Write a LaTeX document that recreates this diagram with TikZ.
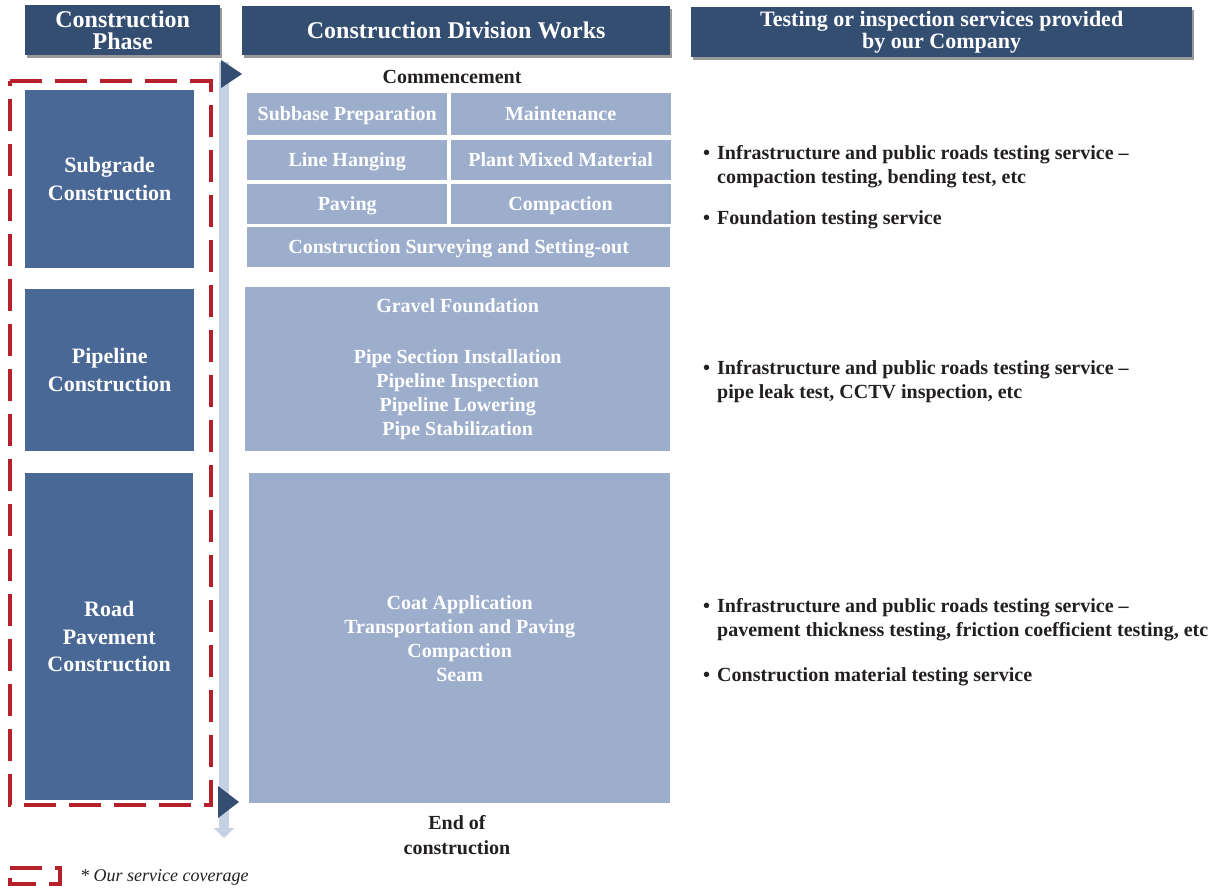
\documentclass[tikz,border=0pt]{standalone}
\usepackage{fontspec}
\setmainfont{Liberation Serif}
\usepackage{tikz}
\usetikzlibrary{positioning, arrows.meta, shadows}

\definecolor{hdrblue}{HTML}{344E71}
\definecolor{phaseblue}{HTML}{4A6895}
\definecolor{workblue}{HTML}{9DAECC}
\definecolor{barblue}{HTML}{C5D1E3}
\definecolor{coverred}{HTML}{B5202A}
\definecolor{inkblack}{HTML}{231F20}

\begin{document}
\begin{tikzpicture}[x=1pt, y=-1pt,
    headnode/.style={rectangle, fill=hdrblue, text=white, anchor=north west, inner sep=0pt, align=center, font=\bfseries\fontsize{24}{22}\selectfont, drop shadow={shadow xshift=2pt, shadow yshift=-3pt, fill=black, opacity=0.4}},
    phasenode/.style={rectangle, fill=phaseblue, text=white, anchor=north west, inner sep=0pt, align=center, font=\bfseries\fontsize{22}{27.5}\selectfont},
    worknode/.style={rectangle, fill=workblue, text=white, anchor=north west, inner sep=0pt, align=center, font=\bfseries\fontsize{20}{24}\selectfont},
    gridnode/.style={worknode, text height=14pt, text depth=1pt},
    marknode/.style={text=inkblack, align=center, inner sep=0pt, font=\bfseries\fontsize{20}{25}\selectfont},
    svcnode/.style={text=inkblack, anchor=west, inner sep=0pt, font=\bfseries\fontsize{20}{24}\selectfont},
    coverbox/.style={draw=coverred, line width=4pt, dash pattern=on 32pt off 13pt},
    timeline/.style={draw=barblue, line width=10pt, -{Triangle[width=20pt,length=10pt]}},
]
\useasboundingbox (0,0) rectangle (1215,891);

% headers
\node[headnode, minimum width=195pt, minimum height=50pt](hphase) at (25,5){Construction\\Phase};
\node[headnode, minimum width=428pt, minimum height=49pt](hworks) at (242,6){Construction Division Works};
\node[headnode, minimum width=501pt, minimum height=50pt, font=\bfseries\fontsize{22}{22}\selectfont](htest) at (691,7){Testing or inspection services provided\\by our Company};

% time line
\coordinate (t0) at (224,62);
\coordinate (t1) at (224,838);
\draw[timeline] (t0) -- (t1);
\fill[hdrblue] (221,60) -- (242,74) -- (221,88) -- cycle;
\fill[hdrblue] (218,786) -- (239,802) -- (218,818) -- cycle;

% service coverage
\draw[coverbox] (10,81) -- (211,81) -- (211,805) -- (10,805) -- cycle;

% construction phases
\node[phasenode, minimum width=169pt, minimum height=178pt](sub) at (25,90){Subgrade\\Construction};
\node[phasenode, minimum width=169pt, minimum height=162pt](pipe) at (25,289){Pipeline\\Construction};
\node[phasenode, minimum width=168pt, minimum height=327pt](road) at (25,473){Road\\Pavement\\Construction};

% division works
\node[marknode](start) at (452,77){Commencement};
\node[gridnode, minimum width=200pt, minimum height=42pt](sp) at (247,93){Subbase Preparation};
\node[gridnode, minimum width=220pt, minimum height=42pt](mt)[right = 3pt of sp]{Maintenance};
\node[gridnode, minimum width=200pt, minimum height=40pt](lh)[below = 4pt of sp]{Line Hanging};
\node[gridnode, minimum width=220pt, minimum height=40pt](pm)[right = 3pt of lh]{Plant Mixed Material};
\node[gridnode, minimum width=200pt, minimum height=40pt](pv)[below = 4pt of lh]{Paving};
\node[gridnode, minimum width=220pt, minimum height=40pt](cp)[right = 3pt of pv]{Compaction};
\node[gridnode, minimum width=423pt, minimum height=40pt](cs) at (247,227){Construction Surveying and Setting-out};
\node[worknode, minimum width=425pt, minimum height=164pt](pw) at (245,287){Gravel Foundation\\[27pt]Pipe Section Installation\\Pipeline Inspection\\Pipeline Lowering\\Pipe Stabilization};
\node[worknode, minimum width=421pt, minimum height=330pt](rw) at (249,473){Coat Application\\Transportation and Paving\\Compaction\\Seam};
\node[marknode](finish) at (457,835){End of\\construction};

% services
\node[svcnode](svc1) at (703,167){\begin{tabular}{@{}l@{\hspace{7pt}}l@{}}\textbullet & Infrastructure and public roads testing service --\\ & compaction testing, bending test, etc\end{tabular}};
\node[svcnode](svc2) at (703,220){\begin{tabular}{@{}l@{\hspace{7pt}}l@{}}\textbullet & Foundation testing service\end{tabular}};
\node[svcnode](svc3) at (703,382){\begin{tabular}{@{}l@{\hspace{7pt}}l@{}}\textbullet & Infrastructure and public roads testing service --\\ & pipe leak test, CCTV inspection, etc\end{tabular}};
\node[svcnode](svc4) at (703,620){\begin{tabular}{@{}l@{\hspace{7pt}}l@{}}\textbullet & Infrastructure and public roads testing service --\\ & pavement thickness testing, friction coefficient testing, etc\end{tabular}};
\node[svcnode](svc5) at (703,677){\begin{tabular}{@{}l@{\hspace{7pt}}l@{}}\textbullet & Construction material testing service\end{tabular}};

% legend
\draw[coverbox] (10,868) -- (60,868) -- (60,884) -- (10,884) -- cycle;
\node[text=inkblack, anchor=west, inner sep=0pt, font=\itshape\fontsize{18}{20}\selectfont](legend) at (80,877){* Our service coverage};
\end{tikzpicture}
\end{document}
